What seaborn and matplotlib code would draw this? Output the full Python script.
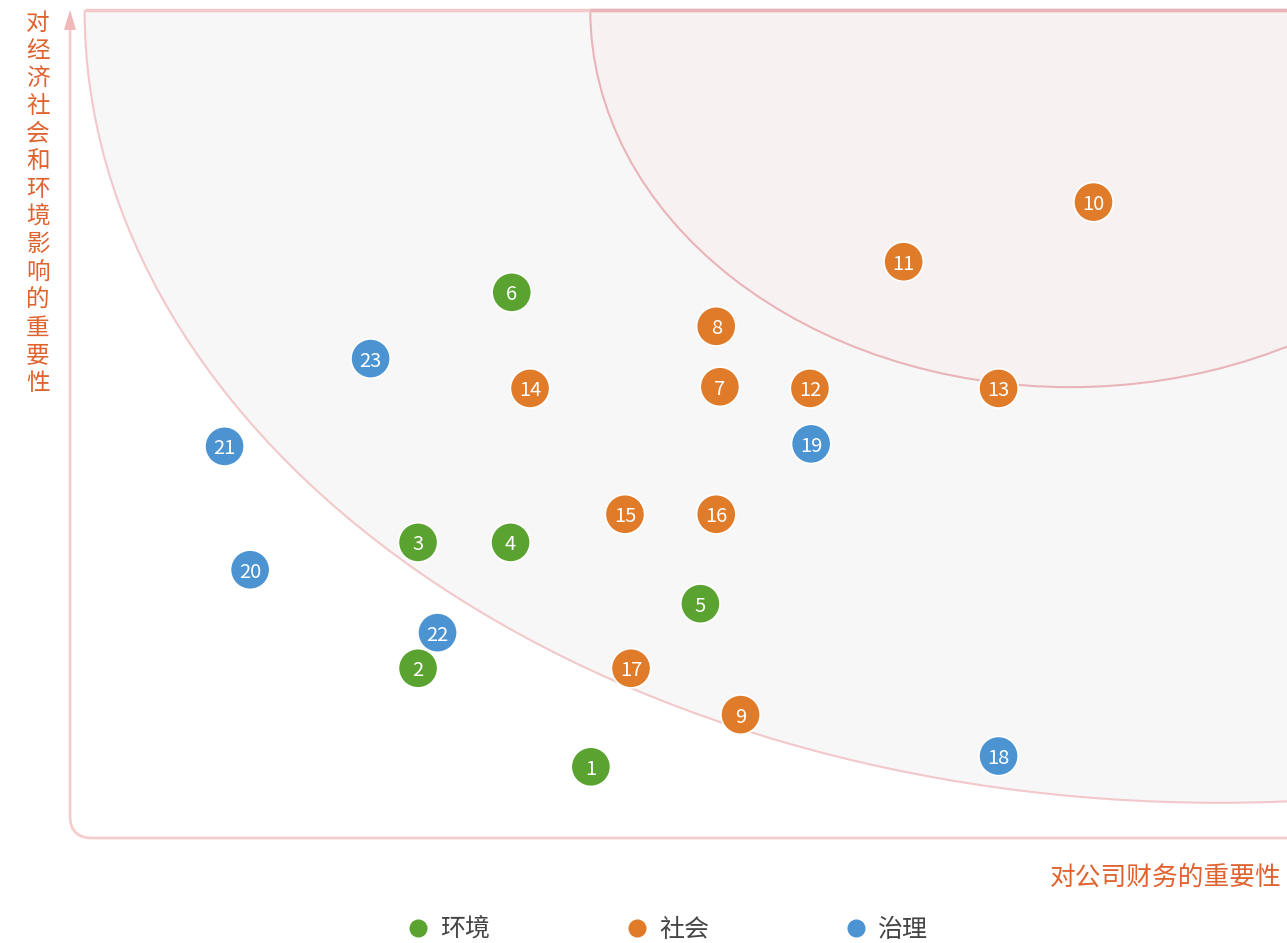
import numpy as np
import pandas as pd
import matplotlib
matplotlib.use("Agg")
import matplotlib.pyplot as plt
from matplotlib.patches import Ellipse, PathPatch, Polygon
from matplotlib.path import Path
from matplotlib.lines import Line2D
import seaborn as sns

# ---- data (0-10 scale on both axes) ----
env_ids = [1, 2, 3, 4, 5, 6]
env_x = [4.28, 2.86, 2.86, 3.62, 5.18, 3.63]
env_y = [0.86, 2.05, 3.57, 3.57, 2.83, 6.59]

soc_ids = [7, 8, 9, 10, 11, 12, 13, 14, 15, 16, 17]
soc_x = [5.34, 5.31, 5.51, 8.41, 6.85, 6.08, 7.63, 3.78, 4.56, 5.31, 4.61]
soc_y = [5.45, 6.18, 1.49, 7.68, 6.96, 5.43, 5.43, 5.43, 3.91, 3.91, 2.05]

gov_ids = [18, 19, 20, 21, 22, 23]
gov_x = [7.63, 6.09, 1.48, 1.27, 3.02, 2.47]
gov_y = [0.99, 4.76, 3.24, 4.73, 2.48, 5.79]

categories = ["环境", "社会", "治理"]
palette = {"环境": "#5ba331", "社会": "#e07b2a", "治理": "#4b93d1"}

x_label = "对公司财务的重要性"
y_label = "对经济社会和环境影响的重要性"

# governance first so the environment dots sit on top (2 over 22)
df = pd.concat([
    pd.DataFrame({"id": gov_ids, "x": gov_x, "y": gov_y, "cat": "治理"}),
    pd.DataFrame({"id": soc_ids, "x": soc_x, "y": soc_y, "cat": "社会"}),
    pd.DataFrame({"id": env_ids, "x": env_x, "y": env_y, "cat": "环境"}),
], ignore_index=True)

sns.set_style("white")
plt.rcParams["font.family"] = ["Noto Sans CJK SC", "DejaVu Sans"]

W, H = 1287, 943
fig = plt.figure(figsize=(W / 100, H / 100), dpi=100)
ax = fig.add_axes([70 / W, (H - 838) / H, 1 - 70 / W, (838 - 10) / H])
ax.set_xlim(0, 10)
ax.set_ylim(0, 10)
ax.axis("off")

# ---- background zones (half ellipses hanging from the top edge) ----
big = Ellipse((9.44, 10.0), 18.64, 19.15, facecolor="#f7f7f7",
              edgecolor="#f2c8ca", lw=1.5, zorder=1)
small = Ellipse((8.22, 10.0), 7.89, 9.11, facecolor="#f7f2f1",
                edgecolor="#e9b4ba", lw=1.5, zorder=2)
ax.add_patch(big)
ax.add_patch(small)
ax.plot([9.44 - 9.32, 10], [10, 10], color="#f2c8ca", lw=2.5,
        clip_on=False, zorder=3, solid_capstyle="butt")
ax.plot([8.22 - 3.945, 10], [10, 10], color="#e9b4ba", lw=2.5,
        clip_on=False, zorder=3, solid_capstyle="butt")

# ---- axis frame: left line with arrow, rounded corner, bottom line ----
rx, ry = 0.18, 0.27
verts = [(0, 9.78), (0, ry), (0, 0), (rx, 0), (10, 0)]
codes = [Path.MOVETO, Path.LINETO, Path.CURVE3, Path.CURVE3, Path.LINETO]
ax.add_patch(PathPatch(Path(verts, codes), fill=False, edgecolor="#f6cccc",
                       lw=2, clip_on=False, zorder=2))
ax.add_patch(Polygon([(0, 10.0), (-0.05, 9.76), (0.05, 9.76)], closed=True,
                     facecolor="#f0b8b8", edgecolor="none", clip_on=False,
                     zorder=3))

# ---- points ----
sns.scatterplot(data=df, x="x", y="y", hue="cat", palette=palette, s=800,
                edgecolor="white", linewidth=1.2, legend=False, ax=ax,
                zorder=5)
for _, r in df.iterrows():
    ax.text(r["x"], r["y"] - 0.03, str(r["id"]), color="white", fontsize=14.5,
            ha="center", va="center", fontweight="light", zorder=6)

# ---- labels ----
fig.text(38 / W, 1 - 12 / H, "\n".join(y_label), color="#e0622f",
         fontsize=17, ha="center", va="top", linespacing=1.26)
fig.text(1282 / W, 1 - 878 / H, x_label, color="#e0622f", fontsize=18.5,
         ha="right", va="center")

handles = [Line2D([0], [0], marker="o", linestyle="none", markersize=13,
                  markerfacecolor=palette[c], markeredgecolor="none")
           for c in categories]
fig.legend(handles, categories, loc="center", ncol=3, frameon=False,
           bbox_to_anchor=(668 / W, 1 - 930 / H), fontsize=18,
           labelcolor="#444444", handlelength=0.8, handletextpad=0.5,
           columnspacing=5.45)

fig.savefig("out.png", dpi=100)
